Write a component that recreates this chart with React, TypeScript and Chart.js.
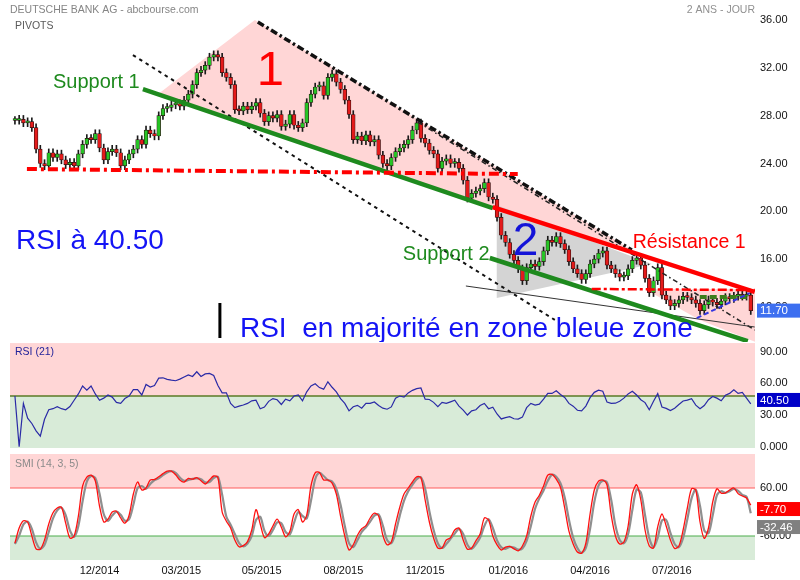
import React, { useEffect, useRef } from 'react';
import { Chart, registerables } from 'chart.js';

Chart.register(...registerables);

const FONT = '"Liberation Sans", Arial, Helvetica, sans-serif';

// one candle every STEP_DAYS trading days
const STEP_DAYS = 3;

const closes = [
  27.6, 27.7, 27.4, 27.5, 27.0, 25.2, 24.0, 23.8, 24.9, 24.5,
  24.8, 24.3, 23.9, 24.1, 23.8, 24.8, 25.6, 26.1, 26.0, 26.5,
  25.3, 24.3, 25.0, 25.2, 24.9, 23.8, 24.3, 24.8, 25.2, 26.0,
  25.6, 26.8, 26.5, 26.3, 28.0, 28.6, 28.7, 28.9, 29.0, 28.8,
  29.3, 29.8, 30.6, 31.6, 31.8, 32.2, 32.9, 33.1, 32.9, 31.6,
  31.2, 30.6, 28.5, 28.4, 28.8, 28.5, 28.8, 29.1, 28.2, 27.5,
  28.0, 27.8, 28.1, 27.1, 27.3, 28.1, 27.2, 27.0, 27.4, 29.1,
  29.8, 30.4, 30.5, 29.7, 31.2, 31.5, 30.8, 30.2, 29.3, 28.1,
  26.0, 26.3, 25.9, 26.4, 25.8, 26.0, 24.7, 24.0, 23.8, 24.5,
  25.0, 25.3, 25.6, 26.0, 26.8, 27.4, 26.1, 25.7, 25.1, 24.8,
  23.6, 24.2, 24.4, 24.0, 24.1, 23.6, 22.6, 21.1, 21.5, 21.7,
  21.9, 22.4, 21.2, 21.0, 19.5, 18.0, 17.4, 16.4, 15.9, 15.2,
  14.2, 15.3, 15.6, 15.4, 15.8, 16.7, 17.6, 17.4, 17.9, 17.3,
  16.8, 15.8, 15.2, 14.8, 14.3, 14.8, 15.6, 16.0, 16.5, 16.7,
  15.5, 15.2, 14.8, 14.5, 14.6, 15.2, 15.9, 16.1, 15.5, 14.4,
  13.2, 14.2, 15.3, 13.0, 12.6, 12.1, 12.3, 12.6, 12.9, 12.8,
  12.6, 12.3, 11.7, 12.2, 12.6, 12.4, 12.2, 12.5, 12.8, 12.7,
  12.9, 13.0, 12.9, 13.0, 11.7,
];

const rsiValues = [
  48, 0, 41, 27, 22, 15, 10, 26, 35, 36,
  38, 36, 35, 38, 44, 50, 57.5, 53.5, 57.5, 50,
  44, 46, 49, 47, 42, 41, 45.6, 48, 54, 54,
  49, 59, 56.5, 58, 65, 65.3, 63.8, 63, 62.5, 64,
  66, 68, 66.5, 71, 66.5, 69, 69.5, 67.5, 58, 51,
  51, 41, 37, 38.4, 39.5, 41, 43.5, 44, 36, 37.5,
  43, 45.6, 44.5, 40, 45, 43.4, 48, 49, 43.5, 52,
  57.5, 59.7, 56, 54.5, 61.5, 56.3, 52, 45.5, 41, 34,
  37.8, 39.2, 36.5, 41, 41, 42.4, 39, 36.5, 35.5, 37.7,
  46, 48, 47, 51, 53.4, 55, 55.6, 45, 44.7, 42,
  38, 42, 41, 42.5, 44, 38.5, 34.7, 30, 34, 35,
  39, 41, 36, 37.5, 31, 26.3, 27.5, 28.5, 26.5, 26.2,
  28, 37, 41, 39.5, 40.3, 45, 50.5, 50.5, 53, 49.5,
  46.7, 41, 38.4, 34.5, 34, 38.5, 46.5, 51.5, 53.5, 52.5,
  42.3, 41, 41.2, 43, 46, 50, 52.5, 49, 44.5, 41.8,
  35, 43, 50.3, 37.6, 36.3, 34.2, 36.5, 40, 43.3, 44.2,
  45.5, 39.4, 36, 39, 44.5, 47.6, 46, 43.5, 48.7, 50.5,
  54, 50.5, 51.5, 46, 40.5,
];

const smiValues = [
  -78, -40, -22, -25, -60, -92, -93, -70, -30, -2,
  10, 12, -28, -65, -60, -10, 65, 87, 92, 78,
  15, -25, -18, 0, 2, -15, -28, -8, 45, 75,
  55, 60, 80, 81, 88, 96, 102, 102, 93, 80,
  75, 84, 82, 86, 78, 70, 80, 90, 86, 0,
  -23, -40, -70, -87, -84, -74, -45, 6, -30, -64,
  -55, -35, -18, -38, -62, -49, -5, 6, -25, -8,
  65, 98, 99, 80, 80, 72, 45, -10, -60, -95,
  -82, -58, -42, -34, -15, -3, -10, -58, -82, -75,
  -30, 12, 45, 60, 75, 88, 86, 30, -25, -65,
  -90, -90, -70, -64, -45, -40, -70, -93, -90, -72,
  -55, -15, -20, -60, -82, -95, -88, -86, -92, -97,
  -85, -60, -10, 25, 42, 65, 92, 94, 82, 62,
  10, -48, -80, -100, -103, -78, -5, 55, 77, 80,
  68, -8, -60, -80, -75, -35, 45, 68, 30, -45,
  -85, -90, -37, -5, -35, -70, -91, -85, -45, 10,
  58, 55, -25, -66, -40, 25, 58, 47, 48, 55,
  60, 46, 40, 35, 17,
];

const smiSignal = [
  -80, -59, -31, -24, -42, -76, -92, -82, -50, -16,
  4, 11, -8, -46, -62, -35, 27, 76, 90, 85,
  46, -5, -22, -9, 1, -7, -22, -18, 18, 60,
  65, 58, 70, 80, 84, 92, 99, 102, 98, 86,
  78, 80, 83, 84, 82, 74, 75, 85, 88, 43,
  -12, -32, -55, -78, -86, -79, -60, -20, -12, -47,
  -60, -45, -26, -28, -50, -56, -27, 0, -10, -16,
  28, 82, 98, 90, 80, 76, 58, 18, -35, -78,
  -88, -70, -50, -38, -24, -9, -6, -34, -70, -78,
  -52, -9, 28, 52, 68, 82, 87, 58, 2, -45,
  -78, -90, -80, -67, -54, -42, -55, -82, -92, -81,
  -64, -35, -18, -40, -71, -88, -92, -87, -89, -94,
  -91, -72, -35, 8, 34, 54, 78, 93, 88, 72,
  36, -19, -64, -90, -102, -90, -42, 25, 66, 78,
  74, 30, -34, -70, -78, -55, 5, 56, 49, -8,
  -65, -88, -64, -21, -20, -52, -80, -88, -65, -18,
  34, 56, 15, -46, -53, -8, 42, 52, 48, 52,
  58, 53, 43, 38, -3,
];

const xTickDays = [60, 118, 175, 233, 291, 350, 408, 466];
const xTickLabels = ['12/2014', '03/2015', '05/2015', '08/2015', '11/2015', '01/2016', '04/2016', '07/2016'];
const priceTicks = [12, 16, 20, 24, 28, 32, 36];
const rsiTicks = [0, 30, 60, 90];
const smiTicks = [-60, 60];

const RSI_MID = 48;
const SMI_UPPER = 60;
const SMI_LOWER = -60;

const LAST_PRICE = 11.7;
const LAST_RSI = 40.5;
const LAST_SMI = -7.7;
const LAST_SMI_SIGNAL = -32.46;

// drawn annotations, in (day, price) coordinates
const pinkZone1: number[][] = [[101.4, 29.8], [170.2, 36.0], [437.6, 16.77], [339, 20.28]];
const grayZone2: number[][] = [[341.8, 20.53], [341.8, 12.76], [451.8, 15.6]];
const pinkZone3: number[][] = [[446.8, 13.51], [527, 13.51], [527, 9.0], [485.8, 10.92]];

const trendLines = [
  { pts: [[172.3, 35.83], [437.6, 16.77]], color: '#111111', width: 3.5, dash: [7, 3, 2.5, 3] },
  { pts: [[285.8, 27.47], [524.8, 10.08]], color: '#222222', width: 1.5, dash: [5, 3, 1.5, 3] },
  { pts: [[83.7, 33.07], [383, 10.92]], color: '#111111', width: 2, dash: [3.5, 4] },
  { pts: [[319.9, 13.76], [524.8, 10.33]], color: '#333333', width: 1, dash: [] as number[] },
  { pts: [[90.8, 30.23], [339, 20.28]], color: '#1e8a1e', width: 4.5, dash: [] as number[] },
  { pts: [[336.9, 16.1], [519.9, 9.15]], color: '#1e8a1e', width: 4.5, dash: [] as number[] },
  { pts: [[339, 20.36], [524.8, 13.26]], color: '#ff0000', width: 4.5, dash: [] as number[] },
  { pts: [[8.5, 23.54], [356.7, 23.12]], color: '#ff0000', width: 4, dash: [10, 4, 3, 4] },
  { pts: [[409.2, 13.51], [524.8, 13.42]], color: '#ff0000', width: 2.5, dash: [9, 3, 3, 3] },
  { pts: [[485.8, 12.84], [519.9, 12.84]], color: '#3c7d1c', width: 4, dash: [7, 3] },
  { pts: [[483.7, 11.08], [521.3, 13.17]], color: '#3535e0', width: 2, dash: [5, 3] },
  { pts: [[145.4, 12.34], [145.4, 9.41]], color: '#000000', width: 3, dash: [] as number[] },
];

const notes = [
  { text: 'Support 1', at: [27, 30.31], color: '#1e8a1e', size: 20 },
  { text: '1', at: [171.6, 30.57], color: '#ff0000', size: 49 },
  { text: 'RSI à 40.50', at: [0.7, 16.85], color: '#1414f5', size: 28 },
  { text: '2', at: [353.2, 16.35], color: '#1414d8', size: 46 },
  { text: 'Support 2', at: [275.2, 15.93], color: '#1e8a1e', size: 20 },
  { text: 'Résistance 1', at: [438.3, 16.94], color: '#ff0000', size: 19.5 },
  { text: 'RSI  en majorité en zone bleue zone', at: [159.6, 9.49], color: '#1414f5', size: 28 },
];

const PINK = '#ffd6d6';
const GREEN_BG = '#d8ebd8';
const GRAY = '#d4d4d4';

const days = closes.map((_, i) => i * STEP_DAYS);
const opens = closes.map((c, i) => (i === 0 ? c : closes[i - 1]));
const WICK = 0.32;

const overlayPlugin = {
  id: 'overlay',
  beforeDatasetsDraw(chart: any) {
    const { ctx, chartArea: ca, scales } = chart;
    const { x, y, rsi, smi } = scales;
    const L = ca.left;
    const W = ca.right - ca.left;
    ctx.save();
    const band = (scale: any, from: number, to: number, color: string) => {
      const y1 = scale.getPixelForValue(to);
      const y2 = scale.getPixelForValue(from);
      ctx.fillStyle = color;
      ctx.fillRect(L, y1, W, y2 - y1);
    };
    const hline = (scale: any, v: number, color: string, w: number) => {
      const py = scale.getPixelForValue(v);
      ctx.strokeStyle = color;
      ctx.lineWidth = w;
      ctx.beginPath();
      ctx.moveTo(L, py);
      ctx.lineTo(ca.right, py);
      ctx.stroke();
    };
    band(rsi, -1.2, RSI_MID, GREEN_BG);
    band(rsi, RSI_MID, 98.2, PINK);
    band(smi, -120, SMI_LOWER, GREEN_BG);
    band(smi, SMI_UPPER, 145, PINK);
    hline(rsi, RSI_MID, '#5a7a26', 1.5);
    hline(smi, SMI_UPPER, '#ff5c5c', 1.2);
    hline(smi, SMI_LOWER, '#4cae4c', 1.2);

    ctx.beginPath();
    ctx.rect(L, y.top, W, y.bottom - y.top);
    ctx.clip();
    const poly = (pts: number[][], color: string) => {
      ctx.fillStyle = color;
      ctx.beginPath();
      pts.forEach((p, i) => {
        const px = x.getPixelForValue(p[0]);
        const py = y.getPixelForValue(p[1]);
        if (i === 0) ctx.moveTo(px, py);
        else ctx.lineTo(px, py);
      });
      ctx.closePath();
      ctx.fill();
    };
    poly(pinkZone1, PINK);
    poly(pinkZone3, PINK);
    poly(grayZone2, GRAY);
    ctx.restore();
  },
  afterDatasetsDraw(chart: any) {
    const { ctx, chartArea: ca, scales } = chart;
    const { x, y } = scales;
    ctx.save();
    ctx.beginPath();
    ctx.rect(ca.left, y.top, ca.right - ca.left, y.bottom - y.top);
    ctx.clip();
    trendLines.forEach((ln) => {
      ctx.strokeStyle = ln.color;
      ctx.lineWidth = ln.width;
      ctx.setLineDash(ln.dash);
      ctx.beginPath();
      ctx.moveTo(x.getPixelForValue(ln.pts[0][0]), y.getPixelForValue(ln.pts[0][1]));
      ctx.lineTo(x.getPixelForValue(ln.pts[1][0]), y.getPixelForValue(ln.pts[1][1]));
      ctx.stroke();
    });
    ctx.setLineDash([]);
    ctx.textBaseline = 'alphabetic';
    ctx.textAlign = 'left';
    notes.forEach((n) => {
      ctx.font = `${n.size}px ${FONT}`;
      ctx.fillStyle = n.color;
      ctx.fillText(n.text, x.getPixelForValue(n.at[0]), y.getPixelForValue(n.at[1]));
    });
    ctx.restore();
  },
  afterDraw(chart: any) {
    const { ctx, chartArea: ca, scales, width } = chart;
    const { y, rsi, smi } = scales;
    ctx.save();
    ctx.textBaseline = 'alphabetic';
    ctx.font = `10.5px ${FONT}`;
    ctx.fillStyle = '#858585';
    ctx.textAlign = 'left';
    ctx.fillText('DEUTSCHE BANK AG - abcbourse.com', 10, 13);
    ctx.fillStyle = '#5a5a5a';
    ctx.fillText('PIVOTS', 15, 29);
    ctx.fillStyle = '#909090';
    ctx.textAlign = 'right';
    ctx.fillText('2 ANS - JOUR', ca.right, 13);
    ctx.textAlign = 'left';
    ctx.fillStyle = '#23239a';
    ctx.fillText('RSI (21)', 15, rsi.getPixelForValue(90) + 3);
    ctx.fillStyle = '#8a8a8a';
    ctx.fillText('SMI (14, 3, 5)', 15, smi.top + 16);

    const box = (yc: number, text: string, bg: string) => {
      ctx.fillStyle = bg;
      ctx.fillRect(ca.right + 2, yc - 7, width - ca.right - 2, 14);
      ctx.fillStyle = '#ffffff';
      ctx.font = `11.5px ${FONT}`;
      ctx.textBaseline = 'middle';
      ctx.fillText(text, ca.right + 5, yc + 0.5);
    };
    // value flags are nudged away from neighbouring labels, as in the source chart
    box(y.getPixelForValue(LAST_PRICE), LAST_PRICE.toFixed(2), '#3d6ff0');
    box(rsi.getPixelForValue(LAST_RSI) - 4, LAST_RSI.toFixed(2), '#0000c8');
    let a = smi.getPixelForValue(LAST_SMI);
    let b = smi.getPixelForValue(LAST_SMI_SIGNAL);
    if (b - a < 18) {
      const m = (a + b) / 2 - 2;
      a = m - 9;
      b = m + 9;
    }
    box(a, LAST_SMI.toFixed(2), '#ff0000');
    box(b, LAST_SMI_SIGNAL.toFixed(2), '#808080');
    ctx.restore();
  },
};

const yAxisCommon = (ticks: number[], fmt: (v: number) => string) => ({
  type: 'linear' as const,
  position: 'right' as const,
  stack: 'panels',
  grid: { display: false, drawTicks: false },
  border: { display: false },
  afterBuildTicks: (s: any) => {
    s.ticks = ticks.map((v) => ({ value: v }));
  },
  afterFit: (s: any) => {
    s.width = 45;
    s.paddingTop = 0;
    s.paddingBottom = 0;
  },
  ticks: {
    autoSkip: false,
    padding: 5,
    color: '#111111',
    font: { family: FONT, size: 11 },
    callback: (v: any) => fmt(Number(v)),
  },
});

export default function App() {
  const ref = useRef<HTMLCanvasElement>(null);

  useEffect(() => {
    const canvas = ref.current;
    if (!canvas) return;
    const bodyColors = closes.map((c, i) => (c >= opens[i] ? '#26c526' : '#e41b1b'));
    const chart = new Chart(canvas, {
      type: 'bar',
      data: {
        datasets: [
          {
            type: 'bar',
            data: days.map((d, i) => ({ x: d, y: [opens[i], closes[i]] })) as any,
            backgroundColor: bodyColors,
            borderColor: '#2a1010',
            borderWidth: 0.7,
            borderSkipped: false,
            barThickness: 3.8,
            minBarLength: 2,
            grouped: false,
            yAxisID: 'y',
            xAxisID: 'x',
            order: 1,
          } as any,
          {
            type: 'bar',
            data: days.map((d, i) => ({
              x: d,
              y: [Math.min(opens[i], closes[i]) - WICK, Math.max(opens[i], closes[i]) + WICK],
            })) as any,
            backgroundColor: '#1a1a1a',
            barThickness: 1,
            grouped: false,
            yAxisID: 'y',
            xAxisID: 'x',
            order: 2,
          } as any,
          {
            type: 'line',
            data: days.map((d, i) => ({ x: d, y: rsiValues[i] })) as any,
            borderColor: '#2a2aa6',
            borderWidth: 1.2,
            pointRadius: 0,
            tension: 0,
            yAxisID: 'rsi',
            xAxisID: 'x',
            order: 1,
          } as any,
          {
            type: 'line',
            data: days.map((d, i) => ({ x: d, y: smiValues[i] })) as any,
            borderColor: '#ff1010',
            borderWidth: 1.3,
            pointRadius: 0,
            tension: 0.3,
            yAxisID: 'smi',
            xAxisID: 'x',
            order: 1,
          } as any,
          {
            type: 'line',
            data: days.map((d, i) => ({ x: d, y: smiSignal[i] })) as any,
            borderColor: '#8f8f8f',
            borderWidth: 2.2,
            pointRadius: 0,
            tension: 0.3,
            yAxisID: 'smi',
            xAxisID: 'x',
            order: 2,
          } as any,
        ],
      },
      options: {
        responsive: false,
        animation: false,
        events: [],
        layout: { padding: { left: 10, right: 0, top: 0, bottom: 0 } },
        plugins: { legend: { display: false }, tooltip: { enabled: false } },
        scales: {
          x: {
            type: 'linear',
            position: 'bottom',
            min: -3.5,
            max: 525,
            offset: false,
            grid: { display: false, drawTicks: false },
            border: { display: false },
            afterBuildTicks: (s: any) => {
              s.ticks = xTickDays.map((v) => ({ value: v }));
            },
            afterFit: (s: any) => {
              s.height = 20;
              s.paddingLeft = 0;
              s.paddingRight = 0;
            },
            ticks: {
              autoSkip: false,
              maxRotation: 0,
              padding: 4,
              color: '#111111',
              font: { family: FONT, size: 11 },
              callback: (_v: any, i: number) => xTickLabels[i],
            },
          },
          y: {
            ...yAxisCommon(priceTicks, (v) => v.toFixed(2)),
            stackWeight: 342,
            min: 9.077,
            max: 37.672,
          },
          rsi: {
            ...yAxisCommon(rsiTicks, (v) => (v === 0 ? '0.000' : v.toFixed(2))),
            stackWeight: 109,
            min: -4.07,
            max: 99.2,
          },
          smi: {
            ...yAxisCommon(smiTicks, (v) => v.toFixed(2)),
            stackWeight: 109,
            min: -120,
            max: 152.5,
          },
        } as any,
      },
      plugins: [overlayPlugin],
    });
    return () => chart.destroy();
  }, []);

  return (
    <div style={{ position: 'fixed', left: 0, top: 0, width: 800, height: 580, background: '#ffffff' }}>
      <canvas ref={ref} width={800} height={580} style={{ width: 800, height: 580, display: 'block' }} />
    </div>
  );
}
